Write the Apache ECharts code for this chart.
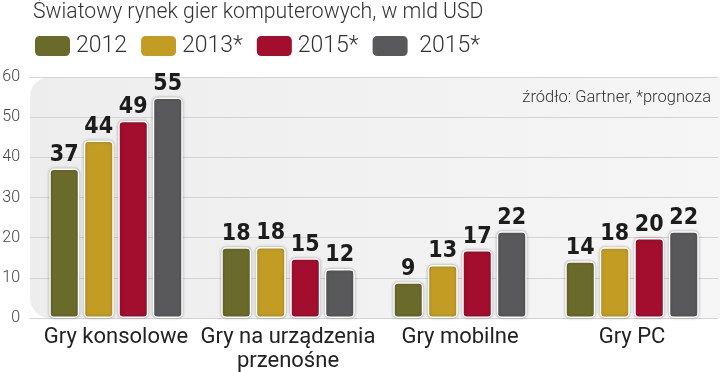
<!DOCTYPE html>
<html><head><meta charset="utf-8">
<script src="https://cdn.jsdelivr.net/npm/echarts@6/dist/echarts.min.js"></script>
<style>html,body{margin:0;padding:0;background:#fff}#c{width:720px;height:372px}</style>
</head><body><div id="c"></div>
<script>
const categories = ['Gry konsolowe', 'Gry na urządzenia\nprzenośne', 'Gry mobilne', 'Gry PC'];
const seriesNames = ['2012', '2013*', '2015*', ' 2015*'];
const s2012 = [37.2, 17.6, 8.9, 14.1];
const s2013 = [44.2, 17.7, 13.2, 17.6];
const s2015a = [49.1, 14.9, 16.9, 19.9];
const s2015b = [54.9, 12.2, 21.6, 21.6];
const yTicks = [0, 10, 20, 30, 40, 50, 60];
const colors = ['#6a6a2a', '#c39c24', '#a30d2e', '#59595b'];
const allData = [s2012, s2013, s2015a, s2015b];

const chart = echarts.init(document.getElementById('c'));
const opt = {
  animation: false,
  title: [{
    text: 'Światowy rynek gier komputerowych, w mld USD',
    left: 28, top: -3,
    textStyle: {fontFamily: 'Roboto', fontWeight: 300, fontSize: 21.2, color: '#333'}
  }, {
    text: 'źródło: Gartner, *prognoza',
    right: 4, top: 84,
    textStyle: {fontFamily: 'Roboto', fontWeight: 300, fontSize: 16.5, color: '#333'}
  }],
  legend: {
    left: 28, top: 29,
    itemWidth: 37, itemHeight: 22, itemGap: 12,
    icon: 'roundRect',
    data: seriesNames,
    textStyle: {fontFamily: 'Roboto', fontWeight: 300, fontSize: 23, color: '#333'}
  },
  grid: {left: 30, right: 2, top: 77, bottom: 54, outerBoundsMode: 'none', containLabel: false},
  xAxis: {
    type: 'category', data: categories,
    axisLine: {show: false}, axisTick: {show: false},
    axisLabel: {interval: 0, margin: 7, fontFamily: 'Roboto', fontSize: 22, color: '#222', lineHeight: 24}
  },
  yAxis: {
    type: 'value', min: 0, max: 60, interval: 10,
    axisLabel: {margin: 10, fontFamily: 'Roboto', fontWeight: 300, fontSize: 16, color: '#444',
      formatter: v => yTicks.includes(v) ? String(v) : ''},
    splitLine: {lineStyle: {color: '#d3d3d3', width: 1}},
    axisLine: {show: false}, axisTick: {show: false}
  },
  series: seriesNames.map((n, i) => ({
    name: n, type: 'bar', data: allData[i],
    barWidth: 30, barGap: '15%',
    itemStyle: {color: colors[i], borderColor: '#fff', borderWidth: 1.5, borderRadius: 4,
      shadowColor: 'rgba(0,0,0,0.3)', shadowBlur: 3},
    label: {show: true, position: 'top', distance: 2,
      formatter: p => Math.round(p.value),
      fontFamily: 'DejaVu Sans Condensed, DejaVu Sans', fontWeight: 'bold', fontSize: 23, color: '#1c1c1c'}
  }))
};
chart.setOption(opt);
const p0 = chart.convertToPixel({gridIndex: 0}, [0, 0]);
const p1 = chart.convertToPixel({gridIndex: 0}, [0, 60]);
chart.setOption({
  graphic: [{
    type: 'rect', z: -10, silent: true,
    shape: {x: 30, y: p1[1], width: 720, height: p0[1] - p1[1], r: [20, 0, 0, 20]},
    style: {fill: new echarts.graphic.LinearGradient(0, 0, 1, 0, [
      {offset: 0, color: '#ededed'}, {offset: 1, color: '#f6f6f6'}])}
  }]
});
</script></body></html>
